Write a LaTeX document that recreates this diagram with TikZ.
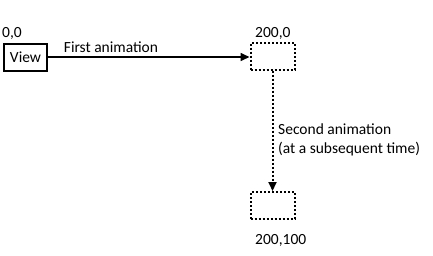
\documentclass[tikz,border=0pt]{standalone}
\usepackage{fontspec}
\setmainfont{Carlito}
\usetikzlibrary{arrows.meta}
\begin{document}
\begin{tikzpicture}[x=1pt,y=-1pt,
  lbl/.style={font=\fontsize{15.5}{19}\selectfont, inner sep=0pt},
  viewbox/.style={draw, line width=1.8pt, minimum width=43pt, minimum height=27pt, inner sep=0pt, font=\fontsize{15.5}{19}\selectfont},
  ghost/.style={draw, line width=2pt, dash pattern=on 2pt off 2pt, minimum width=44pt, minimum height=27pt, inner sep=0pt},
  conn/.style={line width=1.6pt, -{Triangle[length=9pt,width=8pt]}}]
\useasboundingbox (0,0) rectangle (433,255);
\node[viewbox] (view) at (25.5,57.5) {View};
\node[ghost] (b1) at (272.5,56) {};
\node[ghost] (b2) at (272.5,205.5) {};
\node[lbl, anchor=west] (l00) at (2,33) {0,0};
\node[lbl, anchor=west] (l1) at (255,33) {200,0};
\node[lbl, anchor=west] (l2) at (255,240) {200,100};
\draw[conn] (view.east |- 0,57) -- (b1.west |- 0,57);
\node[lbl] (fa) at (111,47) {First animation};
\draw[conn, line width=2pt, dash pattern=on 2pt off 2pt] (b1) -- (b2);
\node[lbl, anchor=west, align=left] (sa) at (278,139.5) {Second animation\\(at a subsequent time)};
\end{tikzpicture}
\end{document}
